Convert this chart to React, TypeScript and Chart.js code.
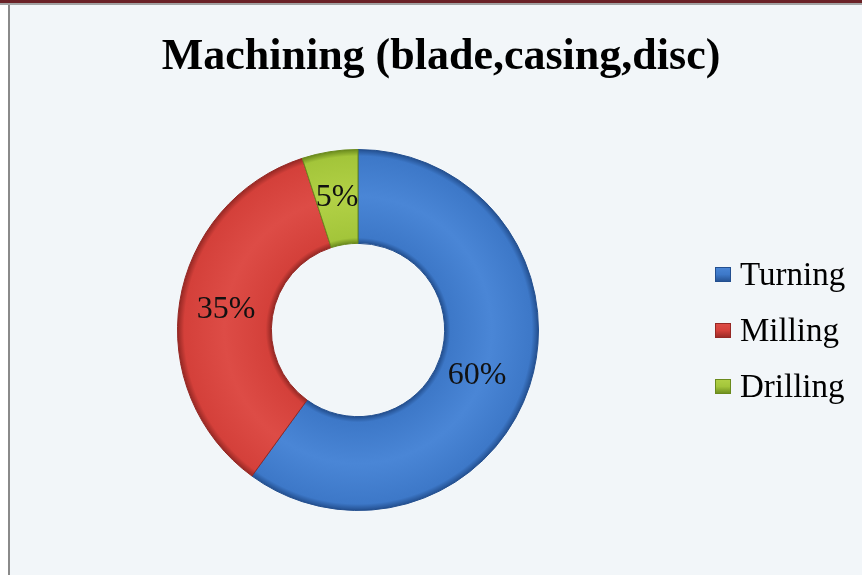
import React, { useEffect, useRef } from "react";
import { Chart, registerables } from "chart.js";

Chart.register(...registerables);

const titleText = "Machining (blade,casing,disc)";
const categories = ["Turning", "Milling", "Drilling"];
const shares = [60, 35, 5];
const baseColors = ["#3d78c8", "#d4403a", "#a3c53a"];
const darkColors = ["#234f8f", "#952824", "#6a8a1d"];
const lightColors = ["#4a86d6", "#dd4c46", "#b2d146"];

const SERIF = '"Times New Roman", "Liberation Serif", serif';

const ringGradient = (c: any) => {
  const i = c.dataIndex ?? 0;
  const chart = c.chart;
  const ca = chart.chartArea;
  const ctrl: any = chart.getDatasetMeta(0).controller;
  if (!ca || !ctrl || !ctrl.outerRadius) return baseColors[i];
  const cx = (ca.left + ca.right) / 2 + (ctrl.offsetX || 0);
  const cy = (ca.top + ca.bottom) / 2 + (ctrl.offsetY || 0);
  const r0 = ctrl.innerRadius;
  const r1 = ctrl.outerRadius;
  const g = chart.ctx.createRadialGradient(cx, cy, r0, cx, cy, r1);
  g.addColorStop(0, darkColors[i]);
  g.addColorStop(0.06, baseColors[i]);
  g.addColorStop(0.5, lightColors[i]);
  g.addColorStop(0.93, baseColors[i]);
  g.addColorStop(1, darkColors[i]);
  return g;
};

const decorPlugin = {
  id: "decor",
  afterDraw(chart: any) {
    const ctx = chart.ctx;
    const data = chart.data.datasets[0].data as number[];
    const total = data.reduce((a, b) => a + b, 0);
    const meta = chart.getDatasetMeta(0);
    ctx.save();
    // slice labels
    ctx.fillStyle = "#111";
    ctx.font = `32px ${SERIF}`;
    ctx.textAlign = "center";
    ctx.textBaseline = "middle";
    meta.data.forEach((arc: any, i: number) => {
      const p = arc.getCenterPoint();
      const pct = Math.round((data[i] / total) * 100);
      ctx.fillText(`${pct}%`, p.x - (i === 0 ? 8 : 0), p.y + (i === 0 ? 4 : 0));
    });
    // title
    ctx.font = `bold 44px ${SERIF}`;
    ctx.textBaseline = "alphabetic";
    ctx.fillStyle = "#000";
    ctx.fillText(titleText, 441, 69);
    // legend
    const labels = chart.data.labels as string[];
    ctx.font = `33px ${SERIF}`;
    ctx.textAlign = "left";
    labels.forEach((lab, i) => {
      const base = 285 + i * 56;
      const bx = 715, by = base - 18, bw = 16, bh = 15;
      const lg = ctx.createLinearGradient(bx, by, bx, by + bh);
      lg.addColorStop(0, lightColors[i]);
      lg.addColorStop(0.5, baseColors[i]);
      lg.addColorStop(1, darkColors[i]);
      ctx.fillStyle = lg;
      ctx.fillRect(bx, by, bw, bh);
      ctx.strokeStyle = darkColors[i];
      ctx.lineWidth = 1;
      ctx.strokeRect(bx + 0.5, by + 0.5, bw - 1, bh - 1);
      ctx.fillStyle = "#000";
      ctx.fillText(lab, 740, base);
    });
    ctx.restore();
  },
};

export default function App() {
  const ref = useRef<HTMLCanvasElement | null>(null);
  useEffect(() => {
    if (!ref.current) return;
    const chart = new Chart(ref.current, {
      type: "doughnut",
      data: {
        labels: categories,
        datasets: [
          {
            data: shares,
            backgroundColor: ringGradient as any,
            borderColor: darkColors,
            borderWidth: 1,
          },
        ],
      },
      options: {
        responsive: false,
        animation: false,
        cutout: "48%",
        layout: { padding: { left: 177, right: 323, top: 147, bottom: 62 } },
        plugins: {
          legend: { display: false },
          title: { display: false },
          tooltip: { enabled: false },
        },
      },
      plugins: [decorPlugin],
    });
    return () => chart.destroy();
  }, []);

  return (
    <div style={{ position: "fixed", left: 0, top: 0, width: 862, height: 575, background: "#ffffff", overflow: "hidden" }}>
      <div style={{ position: "absolute", left: 0, top: 0, width: 862, height: 3, background: "#6b2227" }} />
      <div style={{ position: "absolute", left: 0, top: 3, width: 862, height: 2, background: "#a3a3a3" }} />
      <div style={{ position: "absolute", left: 8, top: 5, width: 2, height: 570, background: "#8a8a8a" }} />
      <div style={{ position: "absolute", left: 10, top: 5, width: 852, height: 570, background: "#f2f6f9" }} />
      <canvas ref={ref} width={862} height={575} style={{ position: "absolute", left: 0, top: 0, width: 862, height: 575 }} />
    </div>
  );
}
